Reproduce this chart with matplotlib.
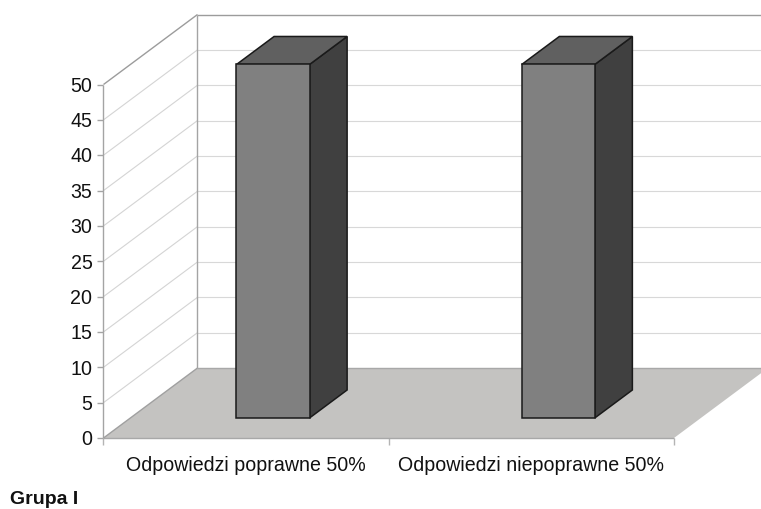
import matplotlib
matplotlib.use('Agg')
import numpy as np
from matplotlib import pyplot as plt
from matplotlib.patches import Polygon

categories = ['Odpowiedzi poprawne 50%', 'Odpowiedzi niepoprawne 50%']
values = [50, 50]
yticks = [0, 5, 10, 15, 20, 25, 30, 35, 40, 45, 50]

W, H = 761, 509
# front plane of the 3d box in pixels
left, right, bottom, top = 103.5, 674, 438, 84.5

# how far the back wall is shifted, in data units
depth_x = 94 / ((right - left) / 2)
depth_y = 70 / ((bottom - top) / 50)

bar_width = 0.256
bar_front = 0.286
bar_depth = 0.40

plt.rcParams['font.family'] = ['Liberation Sans', 'DejaVu Sans']

fig = plt.figure(figsize=(W / 100, H / 100), dpi=100)
ax = fig.add_axes([left / W, 1 - bottom / H, (right - left) / W, (bottom - top) / H])
ax.set_xlim(0, 2)
ax.set_ylim(0, 50)
ax.axis('off')

px_x = (right - left) / 2
px_y = (bottom - top) / 50


def pt(c, v, d):
    # oblique projection of category, value, depth
    return (c + d * depth_x, v + d * depth_y)


def face(points, color, edge='none', lw=0, z=2):
    ax.add_patch(Polygon(points, closed=True, facecolor=color, edgecolor=edge,
                         linewidth=lw, clip_on=False, zorder=z, joinstyle='miter'))


def line(a, b, color, lw, z=1):
    ax.plot([a[0], b[0]], [a[1], b[1]], color=color, lw=lw, clip_on=False,
            zorder=z, solid_capstyle='butt')


# floor
face([pt(0, 0, 0), pt(2, 0, 0), pt(2, 0, 1), pt(0, 0, 1)], '#c4c3c1', z=1)
line(pt(0, 0, 0), pt(2, 0, 0), '#a8a8a8', 1.0, z=1.5)
line(pt(0, 0, 0), pt(0, 0, 1), '#a0a0a0', 1.0, z=1.5)
line(pt(0, 0, 1), pt(2, 0, 1), '#a8a8a8', 1.0, z=1.5)

# grid on side and back walls
for t in yticks[1:]:
    if t == yticks[-1]:
        gc, glw = '#9c9c9c', 1.0
    else:
        gc, glw = '#d4d4d4', 0.8
    line(pt(0, t, 0), pt(0, t, 1), gc, glw)
    line(pt(0, t, 1), pt(2.5, t, 1), gc if t == yticks[-1] else '#d8d8d8', glw)

# wall corners
line(pt(0, 0, 0), pt(0, 50, 0), '#a4a4a4', 1.0)
line(pt(0, 0, 1), pt(0, 50, 1), '#a4a4a4', 1.0)

# axis ticks
for t in yticks:
    line((0, t), (-6 / px_x, t), '#a4a4a4', 1.0)
    ax.text(-11 / px_x, t - 0.25, str(t), ha='right', va='center',
            fontsize=14.1, color='#111111')
for c in [0, 1, 2]:
    line((c, 0), (c, -7 / px_y), '#b4b4b4', 1.0)

# bars
for i, (name, val) in enumerate(zip(categories, values)):
    c0 = i + 0.5 - bar_width / 2
    c1 = i + 0.5 + bar_width / 2
    d0, d1 = bar_front, bar_front + bar_depth
    front = [pt(c0, 0, d0), pt(c1, 0, d0), pt(c1, val, d0), pt(c0, val, d0)]
    side = [pt(c1, 0, d0), pt(c1, 0, d1), pt(c1, val, d1), pt(c1, val, d0)]
    roof = [pt(c0, val, d0), pt(c1, val, d0), pt(c1, val, d1), pt(c0, val, d1)]
    face(side, '#404040', '#1a1a1a', 1.1, z=3)
    face(roof, '#606060', '#1a1a1a', 1.1, z=3)
    face(front, '#808080', '#1a1a1a', 1.1, z=4)
    ax.text(i + 0.5, -27.5 / px_y, name, ha='center', va='center',
            fontsize=14.1, color='#111111')

fig.text(9.5 / W, 1 - 499 / H, 'Grupa I', ha='left', va='center', fontsize=14,
         fontweight='bold', color='#111111')

fig.savefig('out.png', dpi=100)
